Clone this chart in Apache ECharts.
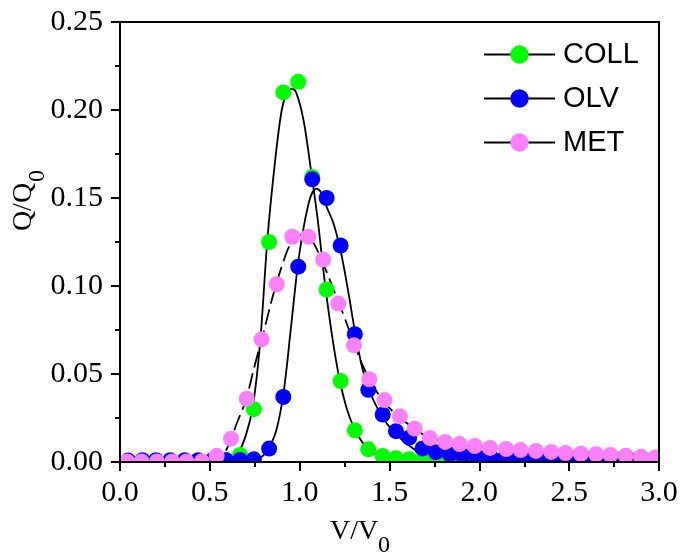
<!DOCTYPE html>
<html>
<head>
<meta charset="utf-8">
<script src="https://cdn.jsdelivr.net/npm/echarts@6/dist/echarts.min.js"></script>
<style>
  html, body { margin: 0; padding: 0; background: #fff; }
  #chart { width: 681px; height: 558px; }
</style>
</head>
<body>
<div id="chart"></div>
<script>
// measured points, COLL and OLV share the same V/V0 positions
var sharedX = [0.045, 0.125, 0.20, 0.28, 0.36, 0.435, 0.515, 0.59, 0.668, 0.745, 0.83, 0.909, 0.992, 1.070, 1.15, 1.228, 1.307, 1.382, 1.462, 1.536, 1.61, 1.684, 1.758, 1.836, 1.909, 1.987, 2.064, 2.142, 2.219, 2.297, 2.374, 2.452, 2.530, 2.607, 2.685, 2.762, 2.840, 2.917]
var collY = [0.0005, 0.0005, 0.0005, 0.0005, 0.0005, 0.0005, 0.0008, 0.0012, 0.004, 0.030, 0.125, 0.210, 0.216, 0.162, 0.098, 0.046, 0.018, 0.0072, 0.0034, 0.0022, 0.0016, 0.0012, 0.001, 0.0008, 0.0006]
var olvY = [0.0008, 0.001, 0.001, 0.001, 0.001, 0.001, 0.001, 0.001, 0.0012, 0.0015, 0.0076, 0.037, 0.111, 0.1606, 0.150, 0.123, 0.0726, 0.041, 0.027, 0.0175, 0.0138, 0.0077, 0.0056, 0.0043, 0.0035, 0.003, 0.0028, 0.0025, 0.0023, 0.0021, 0.002, 0.0018, 0.0017, 0.0015, 0.0014, 0.0013, 0.0012, 0.0011]
var metX = [0.04, 0.12, 0.205, 0.29, 0.37, 0.455, 0.538, 0.618, 0.705, 0.788, 0.872, 0.959, 1.048, 1.131, 1.215, 1.302, 1.388, 1.472, 1.558, 1.64, 1.725, 1.81, 1.89, 1.975, 2.06, 2.15, 2.23, 2.315, 2.40, 2.48, 2.565, 2.65, 2.73, 2.815, 2.90, 2.98]
var metY = [0.0003, 0.0003, 0.0003, 0.0003, 0.0003, 0.0004, 0.0035, 0.0132, 0.036, 0.0697, 0.101, 0.128, 0.128, 0.115, 0.090, 0.0663, 0.047, 0.0352, 0.026, 0.019, 0.0136, 0.0114, 0.0102, 0.0091, 0.008, 0.0074, 0.0068, 0.0063, 0.0057, 0.0051, 0.0047, 0.0044, 0.004, 0.0036, 0.003, 0.0025]

// fitted curves
var collFitX = [0, 0.5, 0.6, 0.65, 0.70, 0.74, 0.78, 0.82, 0.86, 0.90, 0.93, 0.955, 0.98, 1.02, 1.06, 1.10, 1.14, 1.18, 1.22, 1.26, 1.30, 1.35, 1.40, 1.47, 1.55, 1.7, 2.0, 3.0]
var collFitY = [0, 0, 0.001, 0.004, 0.015, 0.032, 0.068, 0.126, 0.168, 0.200, 0.210, 0.212, 0.210, 0.195, 0.168, 0.138, 0.102, 0.072, 0.048, 0.031, 0.020, 0.011, 0.0055, 0.002, 0.0005, 0.0001, 0, 0]
var olvFitX = [0, 0.6, 0.75, 0.8, 0.83, 0.87, 0.91, 0.95, 0.99, 1.02, 1.05, 1.07, 1.093, 1.12, 1.15, 1.19, 1.23, 1.27, 1.31, 1.36, 1.43, 1.52, 1.67, 1.8, 2.0, 2.5, 3.0]
var olvFitY = [0, 0, 0.001, 0.004, 0.008, 0.018, 0.039, 0.075, 0.112, 0.132, 0.147, 0.153, 0.1553, 0.153, 0.145, 0.135, 0.119, 0.097, 0.073, 0.049, 0.031, 0.0175, 0.0052, 0.002, 0.001, 0.0005, 0.0003]
var metFitX = [0, 0.5, 0.57, 0.61, 0.65, 0.70, 0.75, 0.80, 0.85, 0.90, 0.95, 1.00, 1.05, 1.10, 1.15, 1.20, 1.25, 1.30, 1.35, 1.40, 1.47, 1.56, 1.64, 1.72, 1.81, 1.9, 2.0, 2.2, 2.4, 2.6, 2.8, 3.0]
var metFitY = [0, 0.0003, 0.004, 0.011, 0.022, 0.035, 0.055, 0.074, 0.094, 0.111, 0.124, 0.129, 0.128, 0.120, 0.108, 0.095, 0.082, 0.068, 0.055, 0.045, 0.034, 0.025, 0.019, 0.0138, 0.0115, 0.0102, 0.009, 0.007, 0.0057, 0.0046, 0.0036, 0.0024]

var seriesNames = ['COLL', 'OLV', 'MET']
var seriesColors = ['#00ff00', '#0000ff', '#ff80ff']

function pairs(xs, ys) {
  var out = []
  for (var i = 0; i < ys.length; i++) out.push([xs[i], ys[i]])
  return out
}

function fitSeries(name, xs, ys, dash) {
  return {
    name: name,
    type: 'line',
    data: pairs(xs, ys),
    symbol: 'none',
    smooth: 0.35,
    silent: true,
    z: 1,
    lineStyle: { color: '#000', width: 1.8, type: dash ? [16, 6] : 'solid' }
  }
}

function pointSeries(idx, xs, ys) {
  return {
    name: seriesNames[idx],
    type: 'line',
    data: pairs(xs, ys),
    symbol: 'circle',
    symbolSize: 16,
    showAllSymbol: true,
    silent: true,
    z: 2,
    itemStyle: { color: seriesColors[idx], borderWidth: 0 },
    lineStyle: { width: 0, opacity: 0 }
  }
}

var G = { left: 120, right: 22, top: 22, bottom: 96 }
var W = 681, H = 558
var serif = 'Liberation Serif'

function mask(x, y, w, h) {
  return { type: 'rect', z: 10, silent: true, shape: { x: x, y: y, width: w, height: h }, style: { fill: '#fff' } }
}
function label(text, x, y, size, rot, align) {
  return {
    type: 'text', z: 11, x: x, y: y, rotation: rot || 0, silent: true,
    style: { text: text, fill: '#000', fontFamily: serif, fontSize: size, textAlign: align || 'left', textVerticalAlign: 'middle' }
  }
}

var chart = echarts.init(document.getElementById('chart'), null, { renderer: 'canvas' })
var axisLine = { show: true, onZero: false, lineStyle: { color: '#000', width: 2 } }
chart.setOption({
  animation: false,
  backgroundColor: '#fff',
  grid: G,
  legend: {
    orient: 'vertical',
    left: 478,
    top: 35,
    itemWidth: 71,
    itemHeight: 23,
    itemGap: 15,
    selectedMode: false,
    textStyle: { fontFamily: 'Liberation Sans', fontSize: 29, color: '#000', lineHeight: 23, padding: [0, 0, 0, 3] },
    lineStyle: { color: '#000', width: 2, type: 'solid', opacity: 1 },
    data: seriesNames
  },
  xAxis: [{
    type: 'value', min: 0, max: 3, interval: 0.5, z: 20,
    axisLine: axisLine,
    axisTick: { show: true, length: 9, lineStyle: { color: '#000', width: 2 } },
    minorTick: { show: true, splitNumber: 2, length: 5, lineStyle: { color: '#000', width: 2 } },
    axisLabel: { margin: 16, color: '#000', fontFamily: serif, fontSize: 30, formatter: function (v) { return v.toFixed(1) } },
    splitLine: { show: false }
  }, {
    type: 'value', min: 0, max: 3, position: 'top', z: 20,
    axisLine: axisLine, axisTick: { show: false }, axisLabel: { show: false }, splitLine: { show: false }
  }],
  yAxis: [{
    type: 'value', min: 0, max: 0.25, interval: 0.05, z: 20,
    axisLine: axisLine,
    axisTick: { show: true, length: 9, lineStyle: { color: '#000', width: 2 } },
    minorTick: { show: true, splitNumber: 2, length: 5, lineStyle: { color: '#000', width: 2 } },
    axisLabel: { margin: 17, color: '#000', fontFamily: serif, fontSize: 30, formatter: function (v) { return v.toFixed(2) } },
    splitLine: { show: false }
  }, {
    type: 'value', min: 0, max: 0.25, position: 'right', z: 20,
    axisLine: axisLine, axisTick: { show: false }, axisLabel: { show: false }, splitLine: { show: false }
  }],
  graphic: [
    // white masks so markers are cut at the frame
    mask(0, 0, G.left - 1, H),
    mask(W - G.right + 1, 0, G.right, H),
    mask(0, H - G.bottom + 1, W, 16),
    mask(0, 0, W, G.top - 1),
    label('V/V', 330, 532, 28),
    label('0', 378, 546, 24),
    label('Q/Q', 24, 207, 28, Math.PI / 2, 'center'),
    label('0', 38, 176, 24, Math.PI / 2, 'center')
  ],
  series: [
    fitSeries('COLL fit', collFitX, collFitY, false),
    fitSeries('OLV fit', olvFitX, olvFitY, false),
    fitSeries('MET fit', metFitX, metFitY, true),
    pointSeries(0, sharedX, collY),
    pointSeries(1, sharedX, olvY),
    pointSeries(2, metX, metY)
  ]
})
</script>
</body>
</html>
